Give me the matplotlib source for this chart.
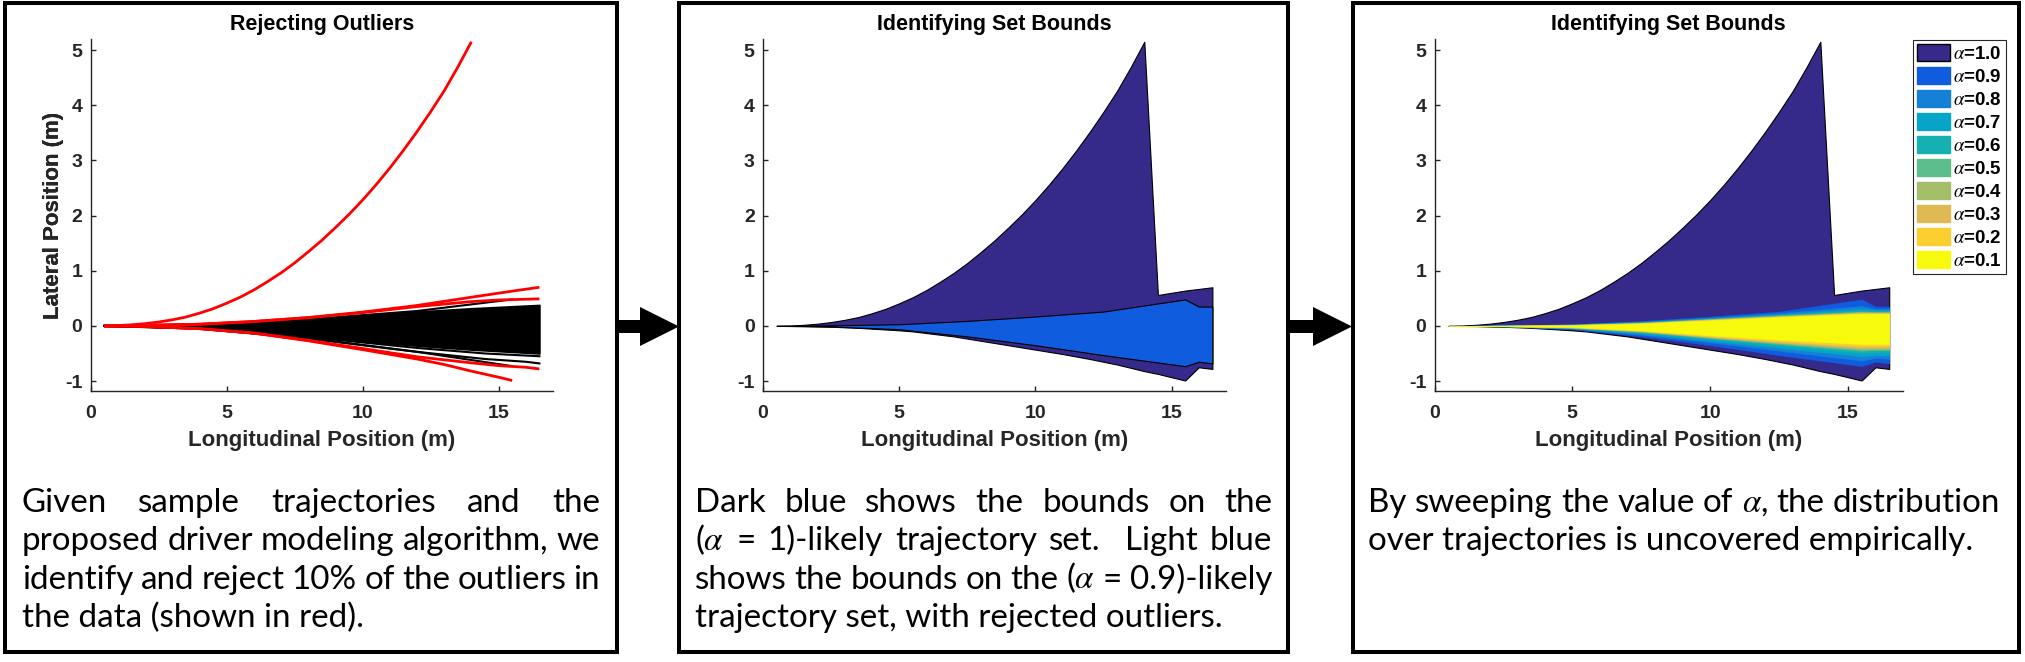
import matplotlib
matplotlib.use("Agg")
import matplotlib.pyplot as plt
from matplotlib.patches import Rectangle, Polygon, Patch

# ---- data ----
x_ticks = [0, 5, 10, 15]
y_ticks = [-1, 0, 1, 2, 3, 4, 5]

# panel 1: accepted trajectories (dense black fan) and outliers (red)
fan_x = [0.5, 2, 4, 6, 8, 10, 12, 14, 16.5]
fan_top = [0, 0.01, 0.03, 0.07, 0.12, 0.19, 0.26, 0.32, 0.38]
fan_bot = [0, -0.01, -0.04, -0.10, -0.18, -0.28, -0.36, -0.43, -0.50]

black_a_x = [0.5, 4, 8, 12, 15.5]
black_a_y = [0, 0.03, 0.12, 0.27, 0.48]
black_b_x = [0.5, 4, 8, 12, 15.5]
black_b_y = [0, -0.05, -0.22, -0.47, -0.73]
black_c_x = [0.5, 4, 8, 12, 14.5, 16.5]
black_c_y = [0, -0.04, -0.20, -0.40, -0.50, -0.55]
black_d_x = [0.5, 4, 8, 12, 14.5, 16, 16.5]
black_d_y = [0, -0.05, -0.23, -0.47, -0.60, -0.65, -0.68]

red_big_x = [0.5, 1, 1.5, 2, 2.5, 3, 3.5, 4, 4.5, 5, 5.5, 6, 6.5, 7, 7.5, 8, 8.5, 9, 9.5,
             10, 10.5, 11, 11.5, 12, 12.5, 13, 13.5, 14]
red_big_y = [0, 0.005, 0.02, 0.04, 0.07, 0.11, 0.16, 0.23, 0.31, 0.41, 0.52, 0.65, 0.80, 0.96,
             1.14, 1.34, 1.55, 1.78, 2.02, 2.28, 2.56, 2.86, 3.18, 3.52, 3.88, 4.26, 4.69, 5.15]
red_a_x = [0.5, 2, 4, 6, 8, 10, 12, 14, 15.5, 16.5]
red_a_y = [0, 0.01, 0.03, 0.08, 0.15, 0.25, 0.37, 0.52, 0.63, 0.70]
red_b_x = [0.5, 2, 4, 6, 8, 10, 12, 14, 15, 16.5]
red_b_y = [0, 0.01, 0.03, 0.08, 0.15, 0.24, 0.35, 0.44, 0.47, 0.49]
red_c_x = [0.5, 2, 4, 6, 8, 10, 12, 14, 15, 16, 16.5]
red_c_y = [0, -0.01, -0.05, -0.13, -0.26, -0.41, -0.56, -0.67, -0.72, -0.75, -0.78]
red_d_x = [0.5, 2, 4, 6, 8, 10, 12, 13, 14, 15, 15.5]
red_d_y = [0, -0.01, -0.05, -0.13, -0.27, -0.43, -0.60, -0.70, -0.82, -0.93, -0.99]

# alpha = 1.0 bounds (all trajectories)
outer_x = [0.5, 1, 1.5, 2, 2.5, 3, 3.5, 4, 4.5, 5, 5.5, 6, 6.5, 7, 7.5, 8, 8.5, 9, 9.5,
           10, 10.5, 11, 11.5, 12, 12.5, 13, 13.5, 14, 14.5, 15.5, 16, 16.5]
outer_top = [0, 0.005, 0.02, 0.04, 0.07, 0.11, 0.16, 0.23, 0.31, 0.41, 0.52, 0.65, 0.80, 0.96,
             1.14, 1.34, 1.55, 1.78, 2.02, 2.28, 2.56, 2.86, 3.18, 3.52, 3.88, 4.26, 4.69, 5.15,
             0.56, 0.64, 0.67, 0.70]
outer_bot = [0, -0.001, -0.003, -0.01, -0.015, -0.025, -0.035, -0.05, -0.065, -0.08, -0.10,
             -0.13, -0.16, -0.19, -0.23, -0.27, -0.31, -0.35, -0.39, -0.43, -0.47, -0.51, -0.555,
             -0.60, -0.65, -0.70, -0.76, -0.82, -0.87, -0.99, -0.75, -0.78]

# alpha = 0.9 ... 0.1 bounds (outliers rejected)
band_x = [0.5, 2.5, 5, 7.5, 10, 12.5, 15.5, 16, 16.5]
band_alpha = [0.9, 0.8, 0.7, 0.6, 0.5, 0.4, 0.3, 0.2, 0.1]
band_top = [
    [0, 0.01, 0.03, 0.09, 0.17, 0.26, 0.48, 0.35, 0.35],
    [0, 0.01, 0.03, 0.08, 0.15, 0.23, 0.36, 0.31, 0.31],
    [0, 0.01, 0.025, 0.07, 0.14, 0.21, 0.31, 0.29, 0.29],
    [0, 0.01, 0.02, 0.065, 0.13, 0.20, 0.28, 0.27, 0.27],
    [0, 0.005, 0.02, 0.06, 0.125, 0.19, 0.26, 0.25, 0.25],
    [0, 0.005, 0.02, 0.055, 0.12, 0.18, 0.25, 0.245, 0.245],
    [0, 0.005, 0.015, 0.05, 0.115, 0.175, 0.24, 0.24, 0.24],
    [0, 0.005, 0.015, 0.05, 0.11, 0.17, 0.23, 0.23, 0.23],
    [0, 0.005, 0.01, 0.045, 0.10, 0.16, 0.22, 0.22, 0.22],
]
band_bot = [
    [0, -0.01, -0.06, -0.19, -0.35, -0.53, -0.73, -0.65, -0.68],
    [0, -0.01, -0.05, -0.16, -0.30, -0.45, -0.63, -0.58, -0.60],
    [0, -0.01, -0.045, -0.14, -0.27, -0.40, -0.55, -0.53, -0.54],
    [0, -0.01, -0.04, -0.12, -0.24, -0.36, -0.49, -0.48, -0.48],
    [0, -0.005, -0.035, -0.11, -0.22, -0.33, -0.45, -0.44, -0.44],
    [0, -0.005, -0.03, -0.10, -0.21, -0.31, -0.42, -0.42, -0.42],
    [0, -0.005, -0.03, -0.095, -0.20, -0.30, -0.40, -0.40, -0.40],
    [0, -0.005, -0.025, -0.09, -0.19, -0.28, -0.37, -0.37, -0.37],
    [0, -0.005, -0.02, -0.08, -0.17, -0.25, -0.33, -0.33, -0.33],
]
dark_blue = "#35298a"
band_colors = ["#105cde", "#1481d6", "#07a4ca", "#14b0b2", "#5cbe8d",
               "#a5be6a", "#dfb952", "#fccf30", "#f8fa0e"]

# paragraphs: (words, justified?)
text_1 = [
    ("Given  sample  trajectories  and  the".split(" "), True),
    ("proposed driver modeling algorithm, we".split(" "), True),
    ("identify and reject 10% of the outliers in".split(" "), True),
    ("the data (shown in red).".split(" "), False),
]
text_2 = [
    ("Dark  blue  shows  the  bounds  on  the".split(" "), True),
    (r"($\alpha$ = 1)-likely trajectory set.  Light blue".split(" "), True),
    (r"shows the bounds on the ($\alpha$ = 0.9)-likely".split(" "), True),
    ("trajectory set, with rejected outliers.".split(" "), False),
]
text_3 = [
    (r"By sweeping the value of $\alpha$, the distribution".split(" "), True),
    ("over trajectories is uncovered empirically.".split(" "), False),
]

# ---- figure ----
W, H = 2025, 662
plt.rcParams["font.family"] = ["Liberation Sans", "DejaVu Sans"]
plt.rcParams["mathtext.fontset"] = "stix"
plt.rcParams["axes.unicode_minus"] = False

fig = plt.figure(figsize=(W / 100, H / 100), dpi=100)
fig.patch.set_facecolor("white")


def fx(x):
    return x / W


def fy(y):
    return 1 - y / H


AX_TOP, AX_BOT = 39, 391
GREY = "#262626"


def make_axes(x0, x1, title):
    ax = fig.add_axes([fx(x0), fy(AX_BOT), (x1 - x0) / W, (AX_BOT - AX_TOP) / H])
    ax.set_xlim(0, 17)
    ax.set_ylim(-1.18, 5.2)
    ax.set_xticks(x_ticks)
    ax.set_yticks(y_ticks)
    ax.patch.set_alpha(0)
    for s in ["top", "right"]:
        ax.spines[s].set_visible(False)
    for s in ["left", "bottom"]:
        ax.spines[s].set_color(GREY)
        ax.spines[s].set_linewidth(1.0)
    ax.tick_params(direction="in", length=3.5, width=1.0, color=GREY,
                   labelsize=14, labelcolor=GREY)
    ax.tick_params(axis="x", pad=10)
    ax.tick_params(axis="y", pad=6)
    plt.setp(ax.get_xticklabels() + ax.get_yticklabels(), fontweight="bold")
    ax.set_title(title, fontsize=15.5, fontweight="bold", pad=6.5, color="black")
    ax.text(0.5, -(446 - AX_BOT) / (AX_BOT - AX_TOP), "Longitudinal Position (m)",
            transform=ax.transAxes, ha="center", va="baseline",
            fontsize=16, fontweight="bold", color=GREY)
    ax.text(-(x0 - 59) / (x1 - x0), 0.5, "Lateral Position (m)", transform=ax.transAxes,
            rotation=90, rotation_mode="anchor", ha="center", va="baseline",
            fontsize=16, fontweight="bold", color=GREY)
    return ax


# panel 1
ax1 = make_axes(90.5, 553, "Rejecting Outliers")
ax1.fill_between(fan_x, fan_top, fan_bot, color="black", linewidth=1.2)
for xs, ys in [(black_a_x, black_a_y), (black_b_x, black_b_y),
               (black_c_x, black_c_y), (black_d_x, black_d_y)]:
    ax1.plot(xs, ys, color="black", linewidth=1.5)
for xs, ys in [(red_big_x, red_big_y), (red_a_x, red_a_y), (red_b_x, red_b_y),
               (red_c_x, red_c_y), (red_d_x, red_d_y)]:
    ax1.plot(xs, ys, color="red", linewidth=2.0, solid_capstyle="butt")

# panel 2
ax2 = make_axes(763, 1226, "Identifying Set Bounds")
ax2.fill_between(outer_x, outer_top, outer_bot, facecolor=dark_blue,
                 edgecolor="black", linewidth=0.8)
ax2.fill_between(band_x, band_top[0], band_bot[0], facecolor=band_colors[0],
                 edgecolor="black", linewidth=0.8)

# panel 3
ax3 = make_axes(1434.5, 1903, "Identifying Set Bounds")
ax3.fill_between(outer_x, outer_top, outer_bot, facecolor=dark_blue,
                 edgecolor="black", linewidth=0.8)
for top, bot, c in zip(band_top, band_bot, band_colors):
    ax3.fill_between(band_x, top, bot, facecolor=c, edgecolor=c, linewidth=0.3)

handles = [Patch(facecolor=dark_blue, edgecolor="black", linewidth=1.0)]
labels = [r"$\alpha$=1.0"]
for a, c in zip(band_alpha, band_colors):
    handles.append(Patch(facecolor=c, edgecolor=c, linewidth=1.0))
    labels.append(r"$\alpha$=%.1f" % a)
leg = ax3.legend(handles, labels, loc="upper left",
                 bbox_to_anchor=(fx(1912.5), fy(39.5)), bbox_transform=fig.transFigure,
                 borderaxespad=0, prop=dict(family="Liberation Sans", weight="bold", size=13.5),
                 handlelength=1.8, handleheight=1.05, labelspacing=0.21,
                 handletextpad=0.15, borderpad=0.22, fancybox=False, framealpha=1,
                 edgecolor=GREY)
leg.get_frame().set_linewidth(0.8)

# ---- panel frames and arrows ----
BOX_TOP, BOX_BOT = 3, 652
for x0, x1 in [(5, 617), (679, 1288), (1352.5, 2018.5)]:
    fig.add_artist(Rectangle((fx(x0), fy(BOX_BOT)), (x1 - x0) / W, (BOX_BOT - BOX_TOP) / H,
                             transform=fig.transFigure, fill=False, edgecolor="black",
                             linewidth=2.9, joinstyle="miter"))


def arrow(x0, x1):
    pts = [(x0, 320), (x1 - 39, 320), (x1 - 39, 307), (x1, 326.5),
           (x1 - 39, 346), (x1 - 39, 333), (x0, 333)]
    fig.add_artist(Polygon([(fx(a), fy(b)) for a, b in pts], closed=True,
                           transform=fig.transFigure, facecolor="black", edgecolor="none"))


arrow(617, 679)
arrow(1288, 1352)

# ---- paragraphs ----
renderer = fig.canvas.get_renderer()
para_family = ["Lato", "DejaVu Sans"]
probe = fig.text(0, 0, " ".join(text_3[0][0]), fontsize=20, family=para_family)
para_size = 20 * (2000 - 1368) / probe.get_window_extent(renderer).width
probe.remove()

BASE0, STEP = 512, 38.3


def place_paragraph(lines, x0, x1):
    for i, (words, justify) in enumerate(lines):
        y = fy(BASE0 + i * STEP)
        if not justify:
            fig.text(fx(x0), y, " ".join(words), fontsize=para_size, family=para_family,
                     va="baseline", ha="left", color="black")
            continue
        texts = [fig.text(0, y, w, fontsize=para_size, family=para_family,
                          va="baseline", ha="left", color="black") for w in words]
        widths = [t.get_window_extent(renderer).width if w else 0.0
                  for t, w in zip(texts, words)]
        gap = ((x1 - x0) - sum(widths)) / (len(words) - 1)
        x = x0
        for t, w in zip(texts, widths):
            t.set_x(fx(x))
            x += w + gap


place_paragraph(text_1, 21.7, 600)
place_paragraph(text_2, 695, 1272)
place_paragraph(text_3, 1368, 2000)

fig.savefig("out.png", dpi=100, facecolor="white")
